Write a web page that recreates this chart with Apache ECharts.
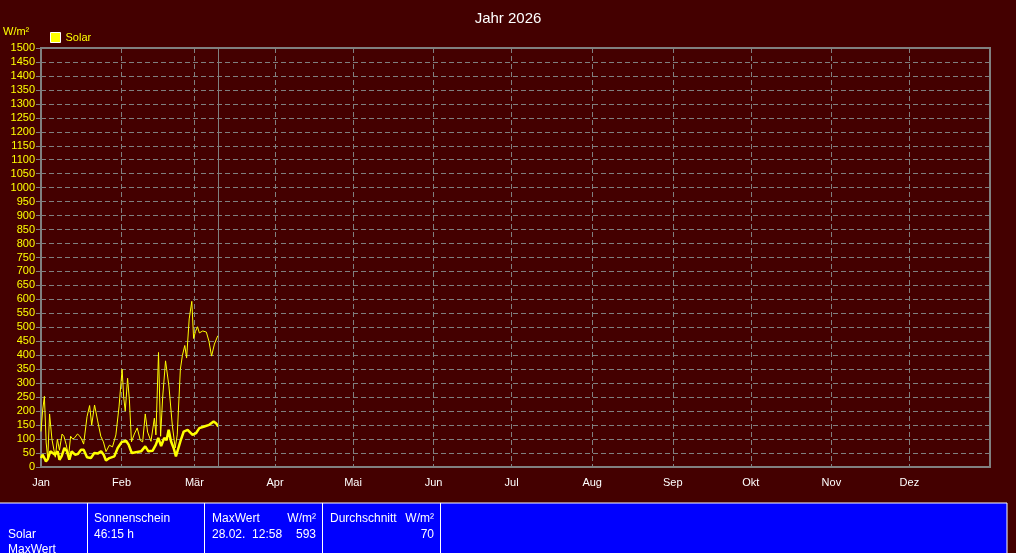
<!DOCTYPE html>
<html>
<head>
<meta charset="utf-8">
<script src="https://cdn.jsdelivr.net/npm/echarts@6/dist/echarts.min.js"></script>
<style>
html,body{margin:0;padding:0;background:#440000;}
#c{width:1016px;height:553px;}
</style>
</head>
<body>
<div id="c"></div>
<script>
const monthLabels = ['Jan','Feb','Mär','Apr','Mai','Jun','Jul','Aug','Sep','Okt','Nov','Dez'];
const monthStartDays = [0,31,59,90,120,151,181,212,243,273,304,334];
const daysInYear = 365;
const yTicks = {min: 0, max: 1500, interval: 50};
const todayDay = 68.1;

// thin line: daily peak values (day of year, W/m²)
const maxDays = [0,0.6,1.3,2.0,2.6,3.3,4.2,4.9,5.5,6.3,7.1,8.1,8.8,9.7,10.6,11.4,12.2,13.0,14.0,14.8,15.6,16.4,17.7,18.7,19.5,20.6,21.8,23.0,24.0,25.0,26.3,27.5,28.8,30.0,31.2,31.8,32.4,33.3,34.0,34.8,35.9,37.0,38.2,39.1,40.1,41.0,42.3,43.6,44.2,45.2,46.0,46.8,47.9,49.2,50.5,51.6,52.4,53.6,54.4,55.3,56.0,57.0,58.0,58.7,59.4,60.2,60.9,62.2,63.6,64.6,65.6,66.7,68.0];
const maxVals = [127,200,253,86,30,190,100,95,35,100,60,118,110,80,38,110,100,105,118,112,100,82,180,220,150,222,165,110,90,55,78,72,115,215,350,250,200,318,240,90,118,140,95,90,190,125,92,175,115,410,110,250,380,290,150,68,115,350,400,435,390,530,593,460,485,502,480,487,483,450,397,440,470];

// thick line: daily mean values
const meanDays = [0,0.6,1.3,1.9,2.6,3.6,4.5,5.4,6.4,7.1,7.9,9.0,10.0,10.9,11.8,13.1,14.1,15.4,16.4,17.7,19.2,20.5,21.8,23.1,24.1,25.0,26.3,28.2,29.5,31.0,32.7,33.7,34.9,36.5,38.5,40.1,41.3,42.9,44.2,45.1,46.2,47.4,48.3,49.1,50.0,51.0,51.9,52.6,53.6,54.9,56.4,58.3,59.6,60.9,62.8,64.7,66.4,67.3,68.2];
const meanVals = [32,44,32,20,28,56,50,44,56,26,38,68,56,26,56,44,46,62,62,35,32,50,48,56,44,23,32,38,68,89,94,80,50,53,56,74,56,58,80,104,75,104,96,133,92,68,38,32,92,127,133,115,121,139,145,151,163,157,145];

const dayCategories = [];
for (let d = 0; d <= daysInYear; d++) {
  const m = monthStartDays.indexOf(d);
  dayCategories.push(m >= 0 ? monthLabels[m] : '');
}
const pairs = (xs, ys) => xs.map((x, i) => [x, ys[i]]);

const FONT = 'Liberation Sans';
const GRAY = '#808080';
const chart = echarts.init(document.getElementById('c'), null, {renderer: 'canvas'});

function txt(x, y, s, align) {
  return {type: 'text', x: x, y: y,
    style: {text: s, fill: '#ffffff', font: '12px "' + FONT + '"', textAlign: align || 'left', textVerticalAlign: 'middle'}};
}
function vline(x) {
  return {type: 'line', shape: {x1: x, y1: 503, x2: x, y2: 553}, style: {stroke: '#ffffff', lineWidth: 1}};
}

chart.setOption({
  backgroundColor: '#440000',
  animation: false,
  textStyle: {fontFamily: FONT},
  title: {
    text: 'Jahr 2026', left: 'center', top: 6,
    textStyle: {color: '#ffffff', fontSize: 15, fontWeight: 'normal', fontFamily: FONT}
  },
  legend: {
    left: 50, top: 32, padding: 0, itemWidth: 10, itemHeight: 10, icon: 'rect', itemGap: 4,
    data: ['Solar'],
    itemStyle: {color: '#ffff00', borderColor: '#ffffff', borderWidth: 1},
    textStyle: {color: '#ffff00', fontSize: 11, fontFamily: FONT}
  },
  grid: {
    left: 41, right: 26, top: 48, bottom: 86,
    show: true, borderColor: GRAY, borderWidth: 2, backgroundColor: 'transparent'
  },
  xAxis: [
    {type: 'value', min: 0, max: daysInYear, show: false},
    {
      type: 'category', data: dayCategories, boundaryGap: false, position: 'bottom',
      axisLine: {show: true, lineStyle: {color: GRAY, width: 2}},
      axisTick: {show: false},
      axisLabel: {
        color: '#ffffff', fontSize: 11, fontFamily: FONT, margin: 10,
        interval: (i, v) => v !== ''
      },
      splitLine: {
        show: true, interval: (i, v) => v !== '' && i > 0,
        lineStyle: {color: GRAY, type: [5, 3], width: 1}
      }
    }
  ],
  yAxis: {
    type: 'value', min: yTicks.min, max: yTicks.max, interval: yTicks.interval,
    axisLine: {show: true, lineStyle: {color: GRAY, width: 2}},
    axisTick: {show: true, length: 5, lineStyle: {color: GRAY}},
    axisLabel: {color: '#ffff00', fontSize: 11, fontFamily: FONT, margin: 6, formatter: v => String(v)},
    splitLine: {show: true, lineStyle: {color: GRAY, type: [5, 3], width: 1}}
  },
  series: [
    {
      name: 'Solar', type: 'line', xAxisIndex: 0, data: pairs(maxDays, maxVals),
      symbol: 'none', lineStyle: {color: '#ffff00', width: 1}, itemStyle: {color: '#ffff00'},
      markLine: {
        silent: true, symbol: 'none', label: {show: false},
        lineStyle: {color: GRAY, type: 'solid', width: 1},
        data: [{xAxis: todayDay}]
      }
    },
    {
      name: 'Solar', type: 'line', xAxisIndex: 0, data: pairs(meanDays, meanVals),
      symbol: 'none', lineStyle: {color: '#ffff00', width: 2.5}, itemStyle: {color: '#ffff00'}
    }
  ],
  graphic: [
    {type: 'text', x: 3, y: 32, style: {text: 'W/m²', fill: '#ffff00', font: '11px "' + FONT + '"', textVerticalAlign: 'middle'}},
    {type: 'rect', shape: {x: -2, y: 503, width: 1009, height: 52}, style: {fill: '#0000ff', stroke: '#ffffff', lineWidth: 1}},
    vline(87.5), vline(204.5), vline(322.5), vline(440.5),
    txt(8, 535, 'Solar'),
    txt(8, 550, 'MaxWert'),
    txt(94, 519, 'Sonnenschein'),
    txt(94, 535, '46:15 h'),
    txt(212, 519, 'MaxWert'),
    txt(316, 519, 'W/m²', 'right'),
    txt(212, 535, '28.02.  12:58'),
    txt(316, 535, '593', 'right'),
    txt(330, 519, 'Durchschnitt'),
    txt(434, 519, 'W/m²', 'right'),
    txt(434, 535, '70', 'right')
  ]
});
</script>
</body>
</html>
